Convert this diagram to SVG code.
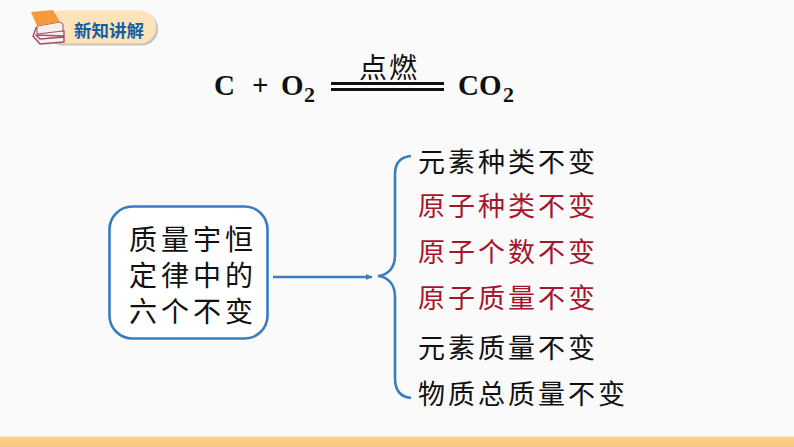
<svg xmlns="http://www.w3.org/2000/svg" width="794" height="447" viewBox="0 0 794 447">
<defs>
<style>
.cn{font-family:"Liberation Serif","Noto Sans CJK SC","Noto Sans CJK JP",sans-serif;font-size:27px;letter-spacing:3px;fill:#111}
.red{fill:#a5162a}
.box{font-size:28px;letter-spacing:4px}
.eq{font-family:"Liberation Serif","Times New Roman",serif;font-weight:bold;font-size:29px;fill:#111}
.sub{font-size:22px}
.conn{fill:none;stroke:#3a7cbd;stroke-width:2.6}
</style>
<marker id="arr" markerWidth="8" markerHeight="8" refX="6" refY="3" orient="auto" markerUnits="userSpaceOnUse"><path d="M0,0L6,3L0,6z" fill="#3a7cbd"/></marker>
<linearGradient id="band" x1="0" y1="0" x2="0" y2="1"><stop offset="0" stop-color="#fad08e"/><stop offset="1" stop-color="#fbc77f"/></linearGradient>
</defs>
<rect width="794" height="447" fill="#fafafa"/>
<rect y="436" width="794" height="1.5" fill="#fdeec9"/>
<rect y="437" width="794" height="10" fill="url(#band)"/>
<g id="title-badge">
<rect x="47" y="12.500" width="111" height="33" rx="16" fill="#b5aca0" opacity=".7"/>
<rect x="45" y="10.500" width="111" height="33" rx="16" fill="#fde3b9"/>
<path d="M64,31L36,28L33,36L40,44L64,42L64,37L40,39L36,35L64,36Z" fill="#f7f3ee" stroke="#a24a6a" stroke-width="1.4"/>
<path d="M37,26L60,22L63,24L63,31L37,34Z" fill="#f5f1ea" stroke="#a24a6a" stroke-width="1"/>
<path d="M31,12L53,10L60,22L37,26Z" fill="#f79a3c"/>
<text x="74" y="37" font-family="'Noto Sans CJK SC',sans-serif" font-weight="bold" font-size="17.500px" fill="#125fa6">新知讲解</text>
</g>
<g id="equation">
<text class="eq" x="214" y="95">C</text>
<text class="eq" x="252" y="95">+</text>
<text class="eq" x="281" y="95">O</text>
<text class="eq sub" x="304" y="102">2</text>
<text class="eq" x="458" y="95">CO</text>
<text class="eq sub" x="503" y="102">2</text>
<text class="cn" x="359" y="78" style="font-size:28px;letter-spacing:2px">点燃</text>
<rect x="331" y="82" width="113" height="3" fill="#111"/>
<rect x="331" y="88" width="113" height="3" fill="#111"/>
</g>
<g id="box">
<rect x="109.500" y="206.500" width="158" height="132" rx="23" fill="#fff" stroke="#3a7cbd" stroke-width="2.6"/>
<text class="cn box" x="129" y="250">质量宇恒</text>
<text class="cn box" x="129" y="286">定律中的</text>
<text class="cn box" x="129" y="322">六个不变</text>
</g>
<g id="connectors">
<path class="conn" d="M273,277H372" marker-end="url(#arr)"/>
<path class="conn" d="M411,156C400,157 395,164 395,174V255C395,268 388,275 378,276C388,277 395,284 395,297V378C395,390 400,397 411,398"/>
</g>
<g id="list">
<text class="cn" x="418" y="172">元素种类不变</text>
<text class="cn red" x="418" y="216">原子种类不变</text>
<text class="cn red" x="418" y="262">原子个数不变</text>
<text class="cn red" x="418" y="308">原子质量不变</text>
<text class="cn" x="418" y="358">元素质量不变</text>
<text class="cn" x="418" y="404">物质总质量不变</text>
</g>
</svg>
